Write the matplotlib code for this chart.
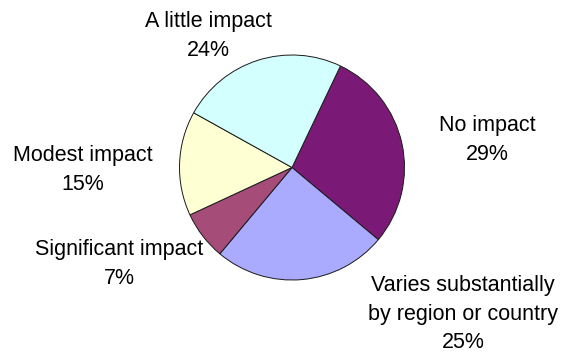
import matplotlib
matplotlib.use('Agg')
from matplotlib import pyplot as plt

######### Data ############
labels = ['No impact', 'Varies substantially\nby region or country',
          'Significant impact', 'Modest impact', 'A little impact']
shares = [29, 25, 7, 15, 24]
colors = ['#7a1a76', '#aaaaff', '#a64c78', '#ffffd4', '#d4ffff']

# label anchor (x centre, first baseline) in pixels from the top-left corner
label_xy = [(487, 131.5), (463, 291), (119, 255.5), (83, 161), (208, 27)]
line_step = 28.7
###########################

W, H = 561, 352
plt.rcParams['font.family'] = ['Liberation Sans', 'DejaVu Sans']

fig = plt.figure(figsize=(W/100, H/100), dpi=100)
fig.patch.set_facecolor('white')

# pie centre (292, 167.5) px, radius 112.5 px
cx, cy, r = 292, 167.5, 112.5
ax = fig.add_axes([(cx-r)/W, (H-cy-r)/H, 2*r/W, 2*r/H])
ax.pie(shares, colors=colors, startangle=64.5, counterclock=False,
       radius=1, wedgeprops=dict(edgecolor='#1a1a1a', linewidth=0.7))
ax.set_xlim(-1, 1)
ax.set_ylim(-1, 1)
ax.set_aspect('auto')
ax.axis('off')

for name, val, (x, y) in zip(labels, shares, label_xy):
	lines = name.split('\n') + ['%d%%' % val]
	for i, line in enumerate(lines):
		fig.text(x/W, 1 - (y + i*line_step)/H, line, ha='center', va='baseline',
		         fontsize=15.5, color='black')

fig.savefig('out.png', dpi=100, facecolor='white')
